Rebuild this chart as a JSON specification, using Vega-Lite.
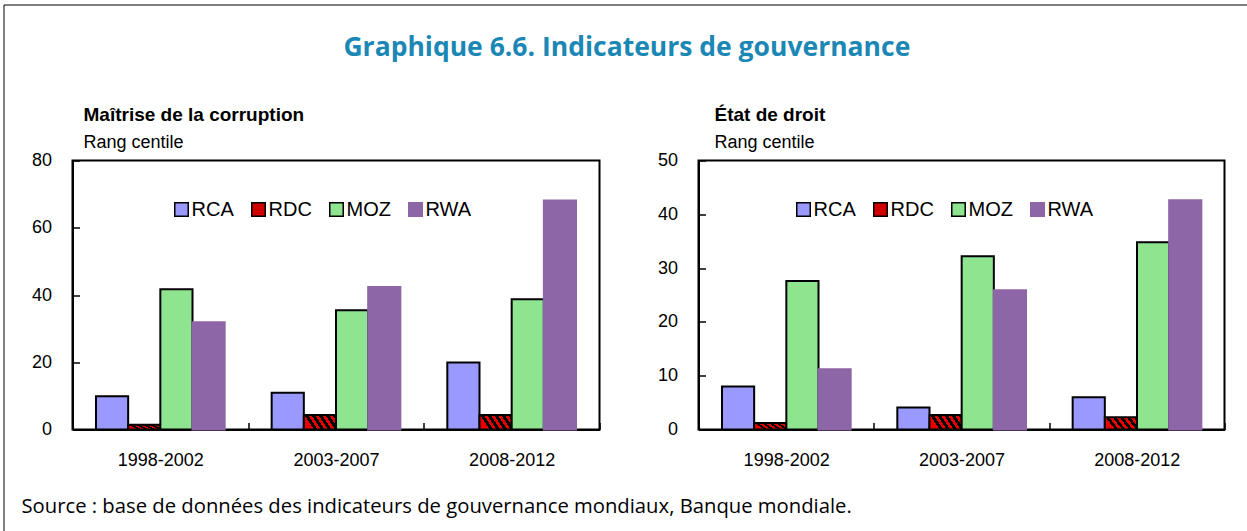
{
  "$schema": "https://vega.github.io/schema/vega-lite/v6.json",
  "background": "white",
  "padding": {"left": 2.5, "top": 3.5, "right": 0, "bottom": 0},
  "datasets": {
    "corruption": [
      {"period": "1998-2002", "country": "RCA", "value": 9.9},
      {"period": "1998-2002", "country": "RDC", "value": 1.4},
      {"period": "1998-2002", "country": "MOZ", "value": 41.7},
      {"period": "1998-2002", "country": "RWA", "value": 31.9},
      {"period": "2003-2007", "country": "RCA", "value": 10.9},
      {"period": "2003-2007", "country": "RDC", "value": 4.3},
      {"period": "2003-2007", "country": "MOZ", "value": 35.5},
      {"period": "2003-2007", "country": "RWA", "value": 42.4},
      {"period": "2008-2012", "country": "RCA", "value": 19.9},
      {"period": "2008-2012", "country": "RDC", "value": 4.3},
      {"period": "2008-2012", "country": "MOZ", "value": 38.7},
      {"period": "2008-2012", "country": "RWA", "value": 68.1}
    ],
    "droit": [
      {"period": "1998-2002", "country": "RCA", "value": 8.0},
      {"period": "1998-2002", "country": "RDC", "value": 1.2},
      {"period": "1998-2002", "country": "MOZ", "value": 27.6},
      {"period": "1998-2002", "country": "RWA", "value": 11.2},
      {"period": "2003-2007", "country": "RCA", "value": 4.1},
      {"period": "2003-2007", "country": "RDC", "value": 2.7},
      {"period": "2003-2007", "country": "MOZ", "value": 32.2},
      {"period": "2003-2007", "country": "RWA", "value": 25.9},
      {"period": "2008-2012", "country": "RCA", "value": 6.0},
      {"period": "2008-2012", "country": "RDC", "value": 2.3},
      {"period": "2008-2012", "country": "MOZ", "value": 34.8},
      {"period": "2008-2012", "country": "RWA", "value": 42.6}
    ]
  },
  "config": {
    "view": {"stroke": "black", "strokeWidth": 2},
    "font": "Liberation Sans",
    "title": {"font": "Liberation Sans", "fontSize": 19, "fontWeight": "bold", "color": "black", "subtitleFont": "Liberation Sans", "subtitleFontSize": 18, "subtitleColor": "black", "subtitlePadding": 9},
    "axis": {"labelFont": "Liberation Sans", "labelFontSize": 18, "labelColor": "black", "domainColor": "black", "domainWidth": 2, "tickColor": "black", "tickWidth": 1.5, "tickSize": -7, "grid": false, "title": null},
    "legend": {"labelFont": "Liberation Sans", "labelFontSize": 20, "labelColor": "black", "symbolType": "square", "symbolSize": 182, "symbolStrokeWidth": 1.5, "columnPadding": 14, "labelOffset": 0, "gridAlign": "none"}
  },
  "vconcat": [
    {
      "title": {"text": "Graphique 6.6. Indicateurs de gouvernance", "font": "Open Sans", "fontSize": 26.5, "fontWeight": "bold", "color": "#1b87b5", "anchor": "middle", "frame": "bounds", "offset": 43, "dx": 3},
      "vconcat": [
        {
          "title": {"text": "Source : base de données des indicateurs de gouvernance mondiaux, Banque mondiale.", "orient": "bottom", "anchor": "start", "font": "Open Sans", "fontSize": 20.25, "fontWeight": "normal", "color": "black", "offset": 26, "dx": -9},
          "spacing": 54,
          "resolve": {"scale": {"x": "independent", "y": "independent"}, "legend": {"fill": "independent", "stroke": "shared"}},
          "hconcat": [
            {
              "width": 527,
              "height": 269,
              "title": {"text": "Maîtrise de la corruption", "subtitle": "Rang centile", "anchor": "start", "frame": "group", "dx": 11, "offset": 0},
              "data": {"name": "corruption"},
              "mark": {"type": "bar", "strokeWidth": 2},
              "encoding": {
                "x": {"field": "period", "type": "nominal", "scale": {"paddingInner": 0, "paddingOuter": 0}, "axis": {"labelAngle": 0, "tickBand": "extent", "labelPadding": 29}},
                "xOffset": {"field": "country", "type": "nominal", "sort": ["RCA", "RDC", "MOZ", "RWA"], "scale": {"paddingInner": 0, "paddingOuter": 0.73}},
                "y": {"field": "value", "type": "quantitative", "scale": {"domain": [0, 80]}, "axis": {"values": [0, 20, 40, 60, 80], "labelPadding": 28}},
                "fill": {
                  "condition": {"test": "datum.country === 'RDC'", "value": {"gradient": "linear", "x1": 0, "y1": 0.3, "x2": 1, "y2": 0, "stops": [
                    {"offset": 0, "color": "#e80000"}, {"offset": 0.1, "color": "#e80000"}, {"offset": 0.1, "color": "#000000"}, {"offset": 0.2, "color": "#000000"},
                    {"offset": 0.2, "color": "#e80000"}, {"offset": 0.3, "color": "#e80000"}, {"offset": 0.3, "color": "#000000"}, {"offset": 0.4, "color": "#000000"},
                    {"offset": 0.4, "color": "#e80000"}, {"offset": 0.5, "color": "#e80000"}, {"offset": 0.5, "color": "#000000"}, {"offset": 0.6, "color": "#000000"},
                    {"offset": 0.6, "color": "#e80000"}, {"offset": 0.7, "color": "#e80000"}, {"offset": 0.7, "color": "#000000"}, {"offset": 0.8, "color": "#000000"},
                    {"offset": 0.8, "color": "#e80000"}, {"offset": 0.9, "color": "#e80000"}, {"offset": 0.9, "color": "#000000"}, {"offset": 1, "color": "#000000"}]}},
                  "field": "country", "type": "nominal",
                  "scale": {"domain": ["RCA", "RDC", "MOZ", "RWA"], "range": ["#9999ff", "#d00000", "#8fe48f", "#8c66a6"]},
                  "legend": {"orient": "none", "legendX": 99, "legendY": 39, "direction": "horizontal", "columns": 4, "title": null, "gridAlign": "none",
                    "encode": {"symbols": {"update": {"stroke": {"signal": "datum.value === 'RWA' ? '#8c66a6' : '#000000'"}, "strokeWidth": {"value": 1.5}}}}}
                },
                "stroke": {
                  "field": "country", "type": "nominal",
                  "scale": {"domain": ["RWA", "RCA", "RDC", "MOZ"], "range": ["#8c66a6", "#000000", "#000000", "#000000"]},
                  "legend": {"orient": "none", "legendX": -69, "legendY": -156, "title": null, "padding": 1000, "strokeColor": "#000000", "labelExpr": "''", "symbolOpacity": 0,
                    "encode": {"legend": {"update": {"strokeWidth": {"value": 3}}}}}
                }
              }
            },
            {
              "width": 526,
              "height": 269,
              "title": {"text": "État de droit", "subtitle": "Rang centile", "anchor": "start", "frame": "group", "dx": 16, "offset": 0},
              "data": {"name": "droit"},
              "mark": {"type": "bar", "strokeWidth": 2},
              "encoding": {
                "x": {"field": "period", "type": "nominal", "scale": {"paddingInner": 0, "paddingOuter": 0}, "axis": {"labelAngle": 0, "tickBand": "extent", "labelPadding": 29}},
                "xOffset": {"field": "country", "type": "nominal", "sort": ["RCA", "RDC", "MOZ", "RWA"], "scale": {"paddingInner": 0, "paddingOuter": 0.73}},
                "y": {"field": "value", "type": "quantitative", "scale": {"domain": [0, 50]}, "axis": {"values": [0, 10, 20, 30, 40, 50], "labelPadding": 28}},
                "fill": {
                  "condition": {"test": "datum.country === 'RDC'", "value": {"gradient": "linear", "x1": 0, "y1": 0.3, "x2": 1, "y2": 0, "stops": [
                    {"offset": 0, "color": "#e80000"}, {"offset": 0.1, "color": "#e80000"}, {"offset": 0.1, "color": "#000000"}, {"offset": 0.2, "color": "#000000"},
                    {"offset": 0.2, "color": "#e80000"}, {"offset": 0.3, "color": "#e80000"}, {"offset": 0.3, "color": "#000000"}, {"offset": 0.4, "color": "#000000"},
                    {"offset": 0.4, "color": "#e80000"}, {"offset": 0.5, "color": "#e80000"}, {"offset": 0.5, "color": "#000000"}, {"offset": 0.6, "color": "#000000"},
                    {"offset": 0.6, "color": "#e80000"}, {"offset": 0.7, "color": "#e80000"}, {"offset": 0.7, "color": "#000000"}, {"offset": 0.8, "color": "#000000"},
                    {"offset": 0.8, "color": "#e80000"}, {"offset": 0.9, "color": "#e80000"}, {"offset": 0.9, "color": "#000000"}, {"offset": 1, "color": "#000000"}]}},
                  "field": "country", "type": "nominal",
                  "scale": {"domain": ["RCA", "RDC", "MOZ", "RWA"], "range": ["#9999ff", "#d00000", "#8fe48f", "#8c66a6"]},
                  "legend": {"orient": "none", "legendX": 95, "legendY": 39, "direction": "horizontal", "columns": 4, "title": null, "gridAlign": "none",
                    "encode": {"symbols": {"update": {"stroke": {"signal": "datum.value === 'RWA' ? '#8c66a6' : '#000000'"}, "strokeWidth": {"value": 1.5}}}}}
                },
                "stroke": {
                  "field": "country", "type": "nominal",
                  "scale": {"domain": ["RWA", "RCA", "RDC", "MOZ"], "range": ["#8c66a6", "#000000", "#000000", "#000000"]},
                  "legend": {"orient": "none", "legendX": -69, "legendY": -156, "title": null, "padding": 1000, "strokeColor": "#000000", "labelExpr": "''", "symbolOpacity": 0,
                    "encode": {"legend": {"update": {"strokeWidth": {"value": 3}}}}}
                }
              }
            }
          ]
        }
      ]
    }
  ]
}
